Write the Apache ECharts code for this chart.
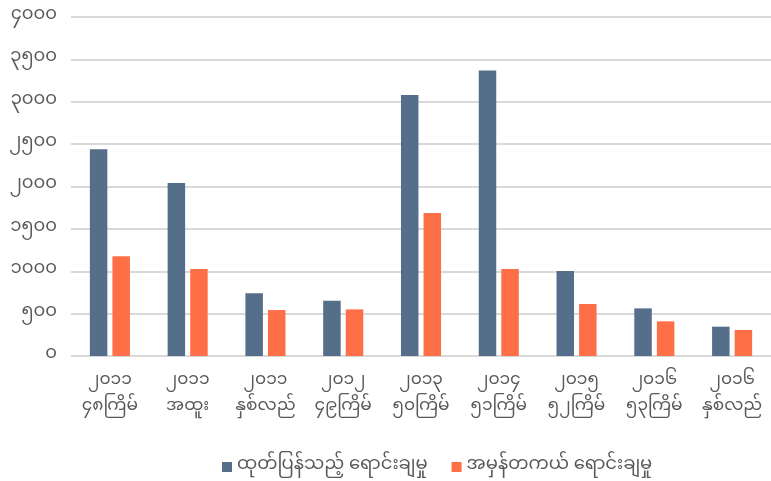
<!DOCTYPE html>
<html>
<head>
<meta charset="utf-8">
<script src="https://cdn.jsdelivr.net/npm/echarts@6/dist/echarts.min.js"></script>
<style>
  html, body { margin: 0; padding: 0; background: #ffffff; }
  #chart { width: 771px; height: 481px; }
</style>
</head>
<body>
<div id="chart"></div>
<script>
// Sale rounds: year on the first line, round name on the second
const years = ['၂၀၁၁', '၂၀၁၁', '၂၀၁၁', '၂၀၁၂', '၂၀၁၃', '၂၀၁၄', '၂၀၁၅', '၂၀၁၆', '၂၀၁၆'];
const rounds = ['၄၈ကြိမ်', 'အထူး', 'နှစ်လည်', '၄၉ကြိမ်', '၅၀ကြိမ်', '၅၁ကြိမ်', '၅၂ကြိမ်', '၅၃ကြိမ်', 'နှစ်လည်'];

const seriesNames = ['ထုတ်ပြန်သည့် ရောင်းချမှု', 'အမှန်တကယ် ရောင်းချမှု'];
const announcedSales = [2440, 2040, 740, 652, 3080, 3370, 1002, 562, 346];
const actualSales = [1176, 1026, 542, 550, 1686, 1026, 613, 409, 307];

// Value axis labels in Myanmar digits
const myDigits = ['၀', '၁', '၂', '၃', '၄', '၅', '၆', '၇', '၈', '၉'];
const toMyanmar = v => String(v).replace(/[0-9]/g, d => myDigits[+d]);

const categories = years.map((y, i) => y + '\n' + rounds[i]);

const font = '"Noto Sans Myanmar", "Padauk", "Myanmar Text", "Noto Sans", sans-serif';
const textColor = '#595959';

const chart = echarts.init(document.getElementById('chart'));
chart.setOption({
  animation: false,
  textStyle: { fontFamily: font },
  grid: { left: 71, right: -2, top: 17, bottom: 125, containLabel: false },
  legend: {
    left: 217,
    top: 453,
    itemWidth: 10,
    itemHeight: 10,
    itemGap: 24,
    icon: 'rect',
    textStyle: { color: textColor, fontSize: 18, fontFamily: font },
    data: seriesNames
  },
  xAxis: {
    type: 'category',
    data: categories,
    axisLine: { show: false },
    axisTick: { show: false },
    axisLabel: {
      interval: 0,
      color: textColor,
      fontSize: 17,
      lineHeight: 26,
      margin: 13,
      fontFamily: font
    }
  },
  yAxis: {
    type: 'value',
    min: 0,
    max: 4000,
    interval: 500,
    axisLine: { show: false },
    axisTick: { show: false },
    splitLine: { lineStyle: { color: '#d9d9d9', width: 2 } },
    axisLabel: {
      color: textColor,
      fontSize: 18,
      margin: 14,
      fontFamily: font,
      formatter: v => toMyanmar(v)
    }
  },
  series: [
    {
      name: seriesNames[0],
      type: 'bar',
      data: announcedSales,
      barWidth: 17.5,
      barGap: '29%',
      itemStyle: { color: '#556f8b' }
    },
    {
      name: seriesNames[1],
      type: 'bar',
      data: actualSales,
      barWidth: 17.5,
      itemStyle: { color: '#ff6f47' }
    }
  ]
});
</script>
</body>
</html>
